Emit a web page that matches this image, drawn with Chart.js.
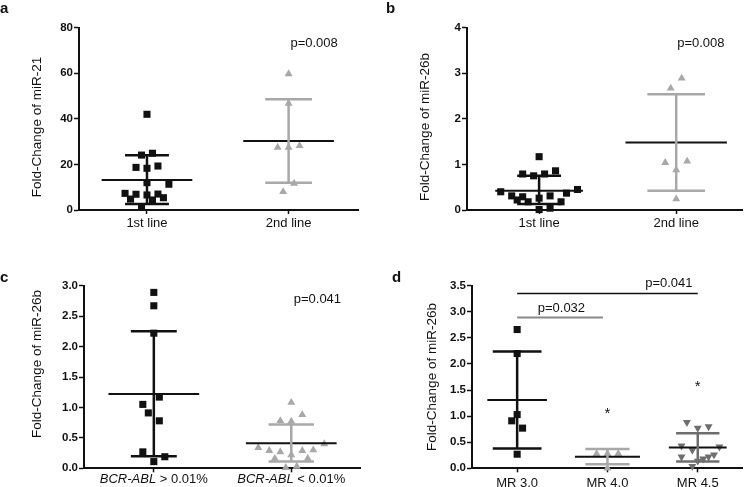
<!DOCTYPE html>
<html>
<head>
<meta charset="utf-8">
<script src="https://cdn.jsdelivr.net/npm/chart.js@4.4.1/dist/chart.umd.min.js"></script>
<style>
  body { margin: 0; background: #fff; }
  #fig { position: relative; width: 747px; height: 487px; overflow: hidden; font-family: Arial, "Liberation Sans", Helvetica, sans-serif; }
  #fig canvas { position: absolute; }
  .tag { position: absolute; font-weight: bold; font-size: 15px; line-height: 15px; color: #111; }
</style>
</head>
<body>
<div id="fig">
  <canvas id="chartA" width="370" height="240" style="left:0;top:0"></canvas>
  <canvas id="chartB" width="377" height="240" style="left:370px;top:0"></canvas>
  <canvas id="chartC" width="370" height="262" style="left:0;top:240px"></canvas>
  <canvas id="chartD" width="377" height="262" style="left:370px;top:240px"></canvas>
  <div class="tag" style="left:0;top:0">a</div>
  <div class="tag" style="left:386px;top:0">b</div>
  <div class="tag" style="left:0;top:269px">c</div>
  <div class="tag" style="left:392px;top:269px">d</div>
</div>
<script>
// --- Panel a: miR-21, 1st vs 2nd line ---
const aCats = ['1st line', '2nd line'];
const aTicks = [0, 20, 40, 60, 80];
const aFirst = [42.0, 24.1, 24.9, 18.7, 18.3, 19.3, 12.0, 11.3, 7.3, 6.9, 6.6, 7.0, 4.8, 4.4, 5.4, 1.2];
const aFirstCol = [0, -1, 1, -2, 0, 2, 0, 4, -4, -2, 0, 2, -3, 1, 3, -1];
const aSecond = [59.7, 46.8, 27.5, 27.5, 28.2, 11.7, 8.0];
const aSecondCol = [0, 0, -2, 0, 2, 1, -1];
const aMean = [13.2, 30.3];
const aSdLow = [2.6, 12.0];
const aSdHigh = [24.0, 48.6];

// --- Panel b: miR-26b, 1st vs 2nd line ---
const bCats = ['1st line', '2nd line'];
const bTicks = [0, 1, 2, 3, 4];
const bFirst = [1.17, 0.79, 0.75, 0.79, 0.86, 0.40, 0.45, 0.31, 0.29, 0.31, 0.37, 0.22, 0.18, 0.26, 0.18, 0.01, 0.04];
const bFirstCol = [0, -3, -1, 1, 3, -7, 7, -5, -3, 2, 5, -4, -2, 0, 4, 0, 2];
const bSecond = [2.89, 2.67, 1.07, 1.04, 0.88, 0.24];
const bSecondCol = [1, -1, 2, -2, 0, 0];
const bMean = [0.42, 1.48];
const bSdLow = [0.13, 0.42];
const bSdHigh = [0.75, 2.54];

// --- Panel c: miR-26b by BCR-ABL level ---
const cCats = [['BCR-ABL', ' > 0.01%'], ['BCR-ABL', ' < 0.01%']];
const cTicks = [0, 0.5, 1.0, 1.5, 2.0, 2.5, 3.0];
const cFirst = [2.89, 2.67, 2.22, 1.17, 1.05, 0.91, 0.78, 0.27, 0.19, 0.11];
const cFirstCol = [0, 0, 0, 1, -2, -1, 1, -2, 2, 0];
const cSecond = [1.08, 0.88, 0.78, 0.77, 0.34, 0.40, 0.29, 0.27, 0.29, 0.30, 0.16, 0.22, 0.16, 0.01, 0.03];
const cSecondCol = [0, 2, -2, 0, -6, 6, -4, -2, 2, 4, -3, 0, 3, -1, 1];
const cMean = [1.22, 0.41];
const cSdLow = [0.20, 0.11];
const cSdHigh = [2.25, 0.72];

// --- Panel d: miR-26b by molecular response ---
const dCats = ['MR 3.0', 'MR 4.0', 'MR 4.5'];
const dTicks = [0, 0.5, 1.0, 1.5, 2.0, 2.5, 3.0, 3.5];
const dMr30 = [2.66, 2.20, 1.03, 0.91, 0.77, 0.27];
const dMr30Col = [0, 0, 0, -1, 1, 0];
const dMr40 = [0.28, 0.28, 0.28, 0.0];
const dMr40Col = [-2, 0, 2, 0];
const dMr45 = [0.88, 0.77, 0.80, 0.43, 0.35, 0.41, 0.22, 0.18, 0.22, 0.26, 0.04, 0.14];
const dMr45Col = [-2, 0, 2, -3, -1, 4, -3, 1, 2, 3, -1, 0];
const dMean = [1.31, 0.22, 0.40];
const dSdLow = [0.38, 0.08, 0.13];
const dSdHigh = [2.24, 0.37, 0.67];
const dSigFrom = [0, 0];
const dSigTo = [0.95, 2];
const dSigY = [2.89, 3.35];
const dSigText = ['p=0.032', 'p=0.041'];

const BLACK = '#111111';
const LIGHT = '#a8a8a8';
const DARK = '#6e6e6e';
const SIG_GREY = '#8a8a8a';
const FONT = 'Arial, "Liberation Sans", Helvetica, sans-serif';

Chart.defaults.font.family = FONT;
Chart.defaults.color = '#111';

function hLine(x0, x1, y, color, width) {
    return {
        data: [{ x: x0, y: y }, { x: x1, y: y }],
        showLine: true, borderColor: color, borderWidth: width,
        pointRadius: 0, clip: false, order: 1
    };
}

// points + SD bar + caps + mean line for one group
function groupSets(i, vals, cols, g) {
    return [
        {
            data: vals.map((v, j) => ({ x: i + cols[j] * g.step, y: v })),
            pointStyle: g.shape, rotation: g.rotation || 0,
            pointRadius: g.shape === 'rect' ? 5 : 4.6,
            backgroundColor: g.color, borderColor: g.color, borderWidth: 0,
            clip: false, order: 2
        },
        {
            data: [{ x: i, y: g.lo }, { x: i, y: g.hi }],
            showLine: true, borderColor: g.color, borderWidth: 2.5,
            pointRadius: 0, clip: false, order: 1
        },
        hLine(i - g.capHalf, i + g.capHalf, g.lo, g.color, 2.5),
        hLine(i - g.capHalf, i + g.capHalf, g.hi, g.color, 2.5),
        hLine(i - g.meanHalf, i + g.meanHalf, g.mean, BLACK, 2)
    ];
}

const extrasPlugin = {
    id: 'extras',
    afterDraw(chart, args, opts) {
        const ctx = chart.ctx;
        const xs = chart.scales.x, ys = chart.scales.y;
        ctx.save();
        ctx.fillStyle = '#111';

        // rotated y-axis title
        ctx.save();
        ctx.translate(opts.titleX, opts.titleY);
        ctx.rotate(-Math.PI / 2);
        ctx.font = '13.5px ' + FONT;
        ctx.textAlign = 'center';
        ctx.textBaseline = 'middle';
        ctx.fillText(opts.title, 0, 0);
        ctx.restore();

        // p-values and asterisks, placed in data units
        (opts.notes || []).forEach(n => {
            ctx.font = (n.size || 13) + 'px ' + FONT;
            ctx.textAlign = 'center';
            ctx.textBaseline = 'middle';
            ctx.fillText(n.text, xs.getPixelForValue(n.x), ys.getPixelForValue(n.y));
        });

        // category labels with an italic gene name
        if (opts.italic) {
            opts.italic.forEach((parts, i) => {
                ctx.font = 'italic 13px ' + FONT;
                const wI = ctx.measureText(parts[0]).width;
                ctx.font = '13px ' + FONT;
                const wN = ctx.measureText(parts[1]).width;
                const x0 = xs.getPixelForValue(i) - (wI + wN) / 2;
                const y = chart.chartArea.bottom + opts.italicGap;
                ctx.textAlign = 'left';
                ctx.textBaseline = 'middle';
                ctx.font = 'italic 13px ' + FONT;
                ctx.fillText(parts[0], x0, y);
                ctx.font = '13px ' + FONT;
                ctx.fillText(parts[1], x0 + wI, y);
            });
        }
        ctx.restore();
    }
};

function makePanel(id, p) {
    const axisGrid = len => ({
        drawOnChartArea: false, drawTicks: true, tickLength: len,
        tickWidth: 1.5, tickColor: BLACK
    });
    return new Chart(document.getElementById(id), {
        type: 'scatter',
        data: { datasets: p.datasets },
        options: {
            responsive: false,
            animation: false,
            events: [],
            layout: { padding: p.padding },
            plugins: {
                legend: { display: false },
                tooltip: { enabled: false },
                extras: p.extras
            },
            scales: {
                x: {
                    type: 'linear', min: p.xMin, max: p.xMax,
                    afterBuildTicks: s => { s.ticks = p.cats.map((c, i) => ({ value: i })); },
                    afterFit: s => { s.height = 30; },
                    ticks: {
                        callback: v => (p.italicLabels ? '' : p.cats[v]),
                        font: { size: 13 }, color: '#111', padding: p.xLabelPad,
                        maxRotation: 0, autoSkip: false
                    },
                    grid: axisGrid(4),
                    border: { color: BLACK, width: 2 }
                },
                y: {
                    type: 'linear', min: p.yTicks[0], max: p.yTicks[p.yTicks.length - 1],
                    afterBuildTicks: s => { s.ticks = p.yTicks.map(v => ({ value: v })); },
                    afterFit: s => { s.width = 40; },
                    ticks: {
                        callback: v => (p.yDigits ? v.toFixed(p.yDigits) : String(v)),
                        font: { size: 11.5, weight: 'bold' }, color: '#111', padding: 1
                    },
                    grid: axisGrid(5),
                    border: { color: BLACK, width: 2 }
                }
            }
        },
        plugins: [extrasPlugin]
    });
}

// Panel a
makePanel('chartA', {
    cats: aCats, yTicks: aTicks, xMin: -0.48, xMax: 1.49, xLabelPad: 2,
    padding: { left: 39, right: 12, top: 27.7, bottom: 0 },
    datasets: [
        ...groupSets(0, aFirst, aFirstCol, { step: 0.0387, shape: 'rect', color: BLACK, mean: aMean[0], lo: aSdLow[0], hi: aSdHigh[0], meanHalf: 0.32, capHalf: 0.155 }),
        ...groupSets(1, aSecond, aSecondCol, { step: 0.0387, shape: 'triangle', color: LIGHT, mean: aMean[1], lo: aSdLow[1], hi: aSdHigh[1], meanHalf: 0.32, capHalf: 0.165 })
    ],
    extras: { title: 'Fold-Change of miR-21', titleX: 37, titleY: 127, notes: [{ text: 'p=0.008', x: 1.18, y: 73.3 }] }
});

// Panel b
makePanel('chartB', {
    cats: bCats, yTicks: bTicks, xMin: -0.526, xMax: 1.48, xLabelPad: 2,
    padding: { left: 57, right: 5, top: 27.7, bottom: 0 },
    datasets: [
        ...groupSets(0, bFirst, bFirstCol, { step: 0.04, shape: 'rect', color: BLACK, mean: bMean[0], lo: bSdLow[0], hi: bSdHigh[0], meanHalf: 0.32, capHalf: 0.16 }),
        ...groupSets(1, bSecond, bSecondCol, { step: 0.04, shape: 'triangle', color: LIGHT, mean: bMean[1], lo: bSdLow[1], hi: bSdHigh[1], meanHalf: 0.37, capHalf: 0.21 })
    ],
    extras: { title: 'Fold-Change of miR-26b', titleX: 55, titleY: 127, notes: [{ text: 'p=0.008', x: 1.18, y: 3.66 }] }
});

// Panel c
makePanel('chartC', {
    cats: cCats, italicLabels: true, yTicks: cTicks, yDigits: 1, xMin: -0.508, xMax: 1.5, xLabelPad: 2,
    padding: { left: 44, right: 10, top: 45.7, bottom: 3.7 },
    datasets: [
        ...groupSets(0, cFirst, cFirstCol, { step: 0.04, shape: 'rect', color: BLACK, mean: cMean[0], lo: cSdLow[0], hi: cSdHigh[0], meanHalf: 0.33, capHalf: 0.167 }),
        ...groupSets(1, cSecond, cSecondCol, { step: 0.04, shape: 'triangle', color: LIGHT, mean: cMean[1], lo: cSdLow[1], hi: cSdHigh[1], meanHalf: 0.33, capHalf: 0.165 })
    ],
    extras: {
        title: 'Fold-Change of miR-26b', titleX: 37, titleY: 124,
        notes: [{ text: 'p=0.041', x: 1.19, y: 2.77 }],
        italic: cCats, italicGap: 11
    }
});

// Panel d
makePanel('chartD', {
    cats: dCats, yTicks: dTicks, yDigits: 1, xMin: -0.5, xMax: 2.49, xLabelPad: 3,
    padding: { left: 62, right: 1, top: 45.7, bottom: 3.7 },
    datasets: [
        ...groupSets(0, dMr30, dMr30Col, { step: 0.06, shape: 'rect', color: BLACK, mean: dMean[0], lo: dSdLow[0], hi: dSdHigh[0], meanHalf: 0.33, capHalf: 0.27 }),
        ...groupSets(1, dMr40, dMr40Col, { step: 0.06, shape: 'triangle', color: LIGHT, mean: dMean[1], lo: dSdLow[1], hi: dSdHigh[1], meanHalf: 0.36, capHalf: 0.245 }),
        ...groupSets(2, dMr45, dMr45Col, { step: 0.06, shape: 'triangle', rotation: 180, color: DARK, mean: dMean[2], lo: dSdLow[2], hi: dSdHigh[2], meanHalf: 0.32, capHalf: 0.24 }),
        hLine(dSigFrom[0], dSigTo[0], dSigY[0], SIG_GREY, 2),
        hLine(dSigFrom[1], dSigTo[1], dSigY[1], BLACK, 1.5)
    ],
    extras: {
        title: 'Fold-Change of miR-26b', titleX: 62, titleY: 137,
        notes: [
            { text: dSigText[0], x: 0.49, y: 3.07 },
            { text: dSigText[1], x: 1.68, y: 3.55 },
            { text: '*', x: 1, y: 1.05, size: 15 },
            { text: '*', x: 2, y: 1.56, size: 15 }
        ]
    }
});
</script>
</body>
</html>
